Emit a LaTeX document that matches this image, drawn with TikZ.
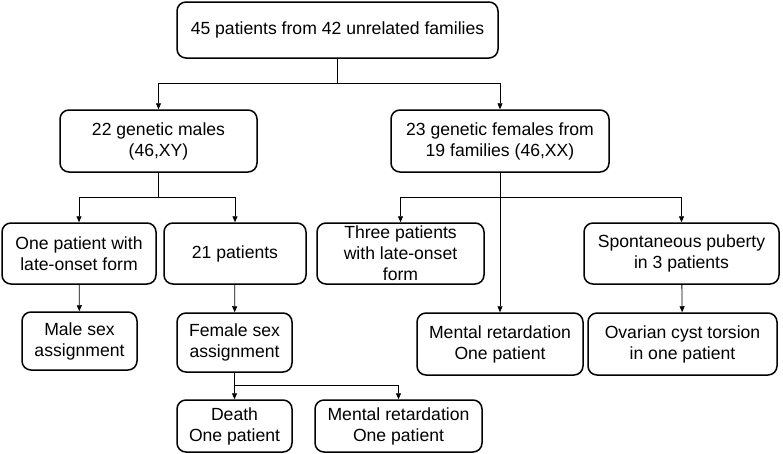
\documentclass[tikz,border=0pt]{standalone}
\usepackage{fontspec}
\setmainfont{Liberation Sans}
\usetikzlibrary{arrows.meta}

\begin{document}
\begin{tikzpicture}[
	x=1pt, y=-1pt,
	font=\fontsize{17.6}{21}\selectfont,
	box/.style = {draw, line width=1.5pt, rounded corners=9pt, align=center, inner sep=2pt},
	conn/.style = {line width=0.8pt, -{Triangle[length=6pt,width=5pt]}},
	line/.style = {line width=0.8pt}
     ]
		\useasboundingbox (0,0) rectangle (783,453);
%
		\node (all) [box, minimum width=321pt, minimum height=56pt] at (337.5,30) {45 patients from 42 unrelated families};
%
		\node (males) [box, minimum width=197pt, minimum height=62pt] at (158.5,141) {22 genetic males\\(46,XY)};
		\node (females) [box, minimum width=218pt, minimum height=62pt] at (500,141) {23 genetic females from\\19 families (46,XX)};
%
		\node (late) [box, minimum width=154pt, minimum height=61pt] at (79,253.5) {One patient with\\late-onset form};
		\node (pat21) [box, minimum width=142pt, minimum height=61pt] at (235,253.5) {21 patients};
		\node (three) [box, minimum width=167pt, minimum height=61pt] at (400.5,253.5) {Three patients\\with late-onset\\form};
		\node (spont) [box, minimum width=195pt, minimum height=61pt] at (681.5,253.5) {Spontaneous puberty\\in 3 patients};
%
		\node (malesex) [box, minimum width=115pt, minimum height=58pt] at (79.5,341) {Male sex\\assignment};
		\node (femsex) [box, minimum width=115pt, minimum height=59pt] at (234.5,342.5) {Female sex\\assignment};
		\node (mentR) [box, minimum width=166pt, minimum height=62pt] at (500,344) {Mental retardation\\One patient};
		\node (ovar) [box, minimum width=189pt, minimum height=62pt] at (682.5,344) {Ovarian cyst torsion\\in one patient};
%
		\node (death) [box, minimum width=115pt, minimum height=52pt] at (234.5,426) {Death\\One patient};
		\node (mentB) [box, minimum width=167pt, minimum height=52pt] at (398.5,426) {Mental retardation\\One patient};
%
		\draw[line] (all.south) -- ++(0,25) coordinate (j1);
		\draw[conn] (j1) -| (males.north);
		\draw[conn] (j1) -| (females.north);
%
		\draw[line] (males.south) -- ++(0,25) coordinate (j2);
		\draw[conn] (j2) -| (late.north);
		\draw[conn] (j2) -| (pat21.north);
%
		\draw[conn] (females.south) -- (mentR.north);
		\coordinate (j3) at ([yshift=-25pt] females.south);
		\draw[conn] (j3) -| (three.north);
		\draw[conn] (j3) -| (spont.north);
%
		\draw[conn] (late) -- (malesex);
		\draw[conn] (pat21) -- (femsex);
		\draw[conn] (spont) -- (ovar);
%
		\draw[line] (femsex.south) -- ++(0,13) coordinate (j4);
		\draw[conn] (j4) -| (death.north);
		\draw[conn] (j4) -| (mentB.north);
\end{tikzpicture}
\end{document}
